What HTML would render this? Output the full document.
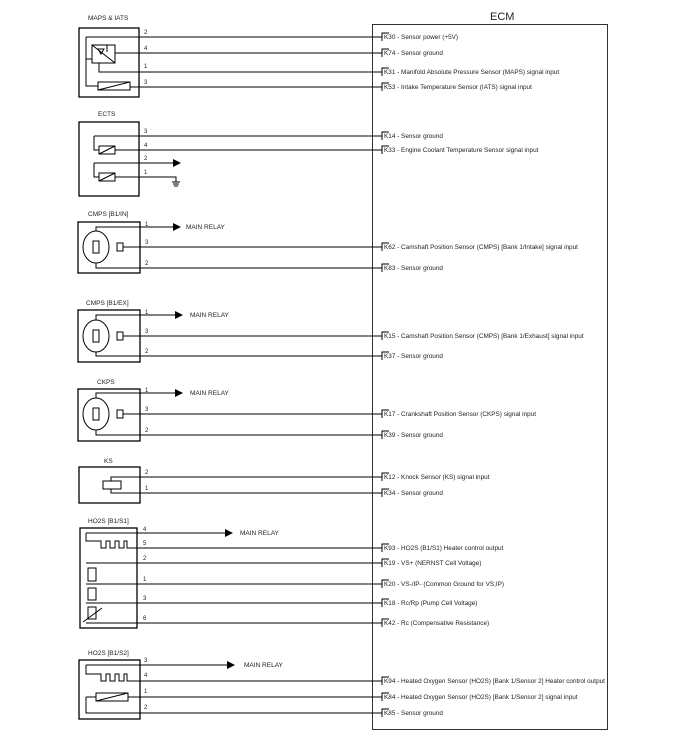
<!DOCTYPE html>
<html><head><style>
html,body{margin:0;padding:0;background:#fff}
svg{display:block}
text{font-family:"Liberation Sans",Arial,sans-serif;fill:#222}
.l{font-size:6.4px}
.n{font-size:6px}
.t{font-size:6.5px}
</style></head><body>
<svg width="700" height="747" viewBox="0 0 700 747" xmlns="http://www.w3.org/2000/svg">
<defs><marker id="a" markerWidth="8" markerHeight="8" refX="7" refY="4" orient="auto" markerUnits="userSpaceOnUse"><path d="M0,0 L8,4 L0,8z" fill="#000"/></marker></defs>
<g stroke="#000" fill="none" stroke-width="1">
<rect x="372.5" y="24.5" width="235" height="705" stroke="#333"/>
<rect x="79" y="28" width="60" height="69" stroke-width="1.3"/>
<rect x="79" y="122" width="60" height="74" stroke-width="1.3"/>
<rect x="78" y="222" width="62" height="51" stroke-width="1.3"/>
<rect x="78" y="310" width="62" height="52" stroke-width="1.3"/>
<rect x="78" y="389" width="62" height="52" stroke-width="1.3"/>
<rect x="79" y="467" width="61" height="36" stroke-width="1.3"/>
<rect x="80" y="528" width="57" height="100" stroke-width="1.3"/>
<rect x="79" y="660" width="61" height="59" stroke-width="1.3"/>
<rect x="92" y="45" width="23" height="18"/>
<path d="M92,45 L115,63 M98,49 L104,49 L101,54z M107,45 L107,52"/>
<path d="M86,37 L86,86 L98,86 M86,59 L92,59 M115,53 L382,53 M99,63 L99,72 L382,72 M86,37 L382,37"/>
<rect x="98" y="82" width="32" height="8"/><path d="M98,90 L130,82 M130,87 L382,87"/>
<path d="M94,136 L382,136 M94,136 L94,150 L99,150 M115,150 L382,150"/>
<rect x="99" y="146" width="16" height="8"/><path d="M99,154 L115,146"/>
<path d="M94,163 L178,163 M94,163 L94,177 L99,177 M115,177 L176,177 L176,182 M172,182 L180,182 M173,184 L179,184 M174,186 L178,186"/>
<path d="M170,163 L180,163" marker-end="url(#a)"/>
<rect x="99" y="173" width="16" height="8"/><path d="M99,181 L115,173"/>
<g>
<ellipse cx="96" cy="247" rx="13" ry="16"/><rect x="93" y="241" width="6" height="12"/>
<rect x="117" y="243" width="6" height="8"/>
<path d="M96,231 L96,227 L180,227 M123,247 L382,247 M96,263 L96,268 L382,268"/>
<path d="M170,227 L180,227" marker-end="url(#a)"/>
</g>
<g>
<ellipse cx="96" cy="336" rx="13" ry="16"/><rect x="93" y="330" width="6" height="12"/>
<rect x="117" y="332" width="6" height="8"/>
<path d="M96,320 L96,315 L182,315 M123,336 L382,336 M96,352 L96,356 L382,356"/>
<path d="M172,315 L182,315" marker-end="url(#a)"/>
</g>
<g>
<ellipse cx="96" cy="414" rx="13" ry="16"/><rect x="93" y="408" width="6" height="12"/>
<rect x="117" y="410" width="6" height="8"/>
<path d="M96,398 L96,393 L182,393 M123,414 L382,414 M96,430 L96,435 L382,435"/>
<path d="M172,393 L182,393" marker-end="url(#a)"/>
</g>
<rect x="103" y="481" width="18" height="8"/>
<path d="M111,481 L111,477 L382,477 M111,489 L111,493 L382,493"/>
<path d="M86,533 L232,533 M86,533 L86,541 L101,541 L101,548 L106,548 L106,541 L110,541 L110,548 L115,548 L115,541 L119,541 L119,548 L124,548 L124,541 L127,541 L127,548 L382,548"/>
<path d="M222,533 L232,533" marker-end="url(#a)"/>
<path d="M86,563 L382,563 M86,584 L382,584 M86,603 L382,603 M86,623 L382,623"/>
<rect x="88" y="568" width="8" height="13"/><rect x="88" y="588" width="8" height="12"/><rect x="88" y="607" width="8" height="12"/>
<path d="M83,622 L102,608"/>
<path d="M86,665 L234,665 M86,665 L86,674 L101,674 L101,681 L106,681 L106,674 L110,674 L110,681 L115,681 L115,674 L119,674 L119,681 L124,681 L124,674 L127,674 L127,681 L382,681"/>
<path d="M224,665 L234,665" marker-end="url(#a)"/>
<rect x="96" y="693" width="32" height="8"/><path d="M96,701 L128,693 M128,697 L382,697 M86,697 L96,697 M86,697 L86,713 L382,713"/>
<path d="M389,33 L382,33 L382,41 M389,49 L382,49 L382,57 M389,68 L382,68 L382,76 M389,83 L382,83 L382,91 M389,132 L382,132 L382,140 M389,146 L382,146 L382,154 M389,243 L382,243 L382,251 M389,264 L382,264 L382,272 M389,332 L382,332 L382,340 M389,352 L382,352 L382,360 M389,410 L382,410 L382,418 M389,431 L382,431 L382,439 M389,473 L382,473 L382,481 M389,489 L382,489 L382,497 M389,544 L382,544 L382,552 M389,559 L382,559 L382,567 M389,580 L382,580 L382,588 M389,599 L382,599 L382,607 M389,619 L382,619 L382,627 M389,677 L382,677 L382,685 M389,693 L382,693 L382,701 M389,709 L382,709 L382,717"/>
</g>
<text x="490" y="20" style="font-size:11px">ECM</text>
<text class="t" x="88" y="20">MAPS &amp; IATS</text>
<text class="t" x="98" y="116">ECTS</text>
<text class="t" x="88" y="216">CMPS [B1/IN]</text>
<text class="t" x="86" y="305">CMPS [B1/EX]</text>
<text class="t" x="97" y="384">CKPS</text>
<text class="t" x="104" y="463">KS</text>
<text class="t" x="88" y="523">HO2S [B1/S1]</text>
<text class="t" x="88" y="655">HO2S [B1/S2]</text>
<text class="t" x="186" y="229">MAIN RELAY</text>
<text class="t" x="190" y="317">MAIN RELAY</text>
<text class="t" x="190" y="395">MAIN RELAY</text>
<text class="t" x="240" y="535">MAIN RELAY</text>
<text class="t" x="244" y="667">MAIN RELAY</text>
<g class="n">
<text x="144" y="34">2</text><text x="144" y="50">4</text><text x="144" y="68">1</text><text x="144" y="84">3</text>
<text x="144" y="133">3</text><text x="144" y="147">4</text><text x="144" y="160">2</text><text x="144" y="174">1</text>
<text x="145" y="226">1</text><text x="145" y="244">3</text><text x="145" y="265">2</text>
<text x="145" y="314">1</text><text x="145" y="333">3</text><text x="145" y="353">2</text>
<text x="145" y="392">1</text><text x="145" y="411">3</text><text x="145" y="432">2</text>
<text x="145" y="474">2</text><text x="145" y="490">1</text>
<text x="143" y="531">4</text><text x="143" y="545">5</text><text x="143" y="560">2</text><text x="143" y="581">1</text><text x="143" y="600">3</text><text x="143" y="620">6</text>
<text x="144" y="662">3</text><text x="144" y="677">4</text><text x="144" y="693">1</text><text x="144" y="709">2</text>
</g>
<g class="l">
<text x="384" y="39">K30 - Sensor power (+5V)</text>
<text x="384" y="55">K74 - Sensor ground</text>
<text x="384" y="74">K31 - Manifold Absolute Pressure Sensor (MAPS) signal input</text>
<text x="384" y="89">K53 - Intake Temperature Sensor (IATS) signal input</text>
<text x="384" y="138">K14 - Sensor ground</text>
<text x="384" y="152">K33 - Engine Coolant Temperature Sensor signal input</text>
<text x="384" y="249">K62 - Camshaft Position Sensor (CMPS) [Bank 1/Intake] signal input</text>
<text x="384" y="270">K83 - Sensor ground</text>
<text x="384" y="338">K15 - Camshaft Position Sensor (CMPS) [Bank 1/Exhaust] signal input</text>
<text x="384" y="358">K37 - Sensor ground</text>
<text x="384" y="416">K17 - Crankshaft Position Sensor (CKPS) signal input</text>
<text x="384" y="437">K39 - Sensor ground</text>
<text x="384" y="479">K12 - Knock Sensor (KS) signal input</text>
<text x="384" y="495">K34 - Sensor ground</text>
<text x="384" y="550">K93 - HO2S (B1/S1) Heater control output</text>
<text x="384" y="565">K19 - VS+ (NERNST Cell Voltage)</text>
<text x="384" y="586">K20 - VS-/IP- (Common Ground for VS,IP)</text>
<text x="384" y="605">K18 - Rc/Rp (Pump Cell Voltage)</text>
<text x="384" y="625">K42 - Rc (Compensative Resistance)</text>
<text x="384" y="683">K94 - Heated Oxygen Sensor (HO2S) [Bank 1/Sensor 2] Heater control output</text>
<text x="384" y="699">K84 - Heated Oxygen Sensor (HO2S) [Bank 1/Sensor 2] signal input</text>
<text x="384" y="715">K85 - Sensor ground</text>
</g>
</svg>
</body></html>
